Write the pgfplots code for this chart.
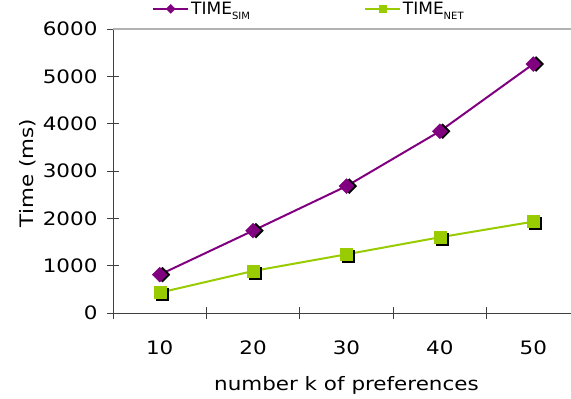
\documentclass[border=0pt]{standalone}
\usepackage{pgfplots}
\pgfplotsset{compat=1.18}
\usepackage{fontspec}
\setmainfont[FakeStretch=1.16]{DejaVu Sans}
\newfontfamily\legfont{DejaVu Sans}
\definecolor{simc}{HTML}{800080}
\definecolor{netc}{HTML}{99CC00}
\newcommand{\bigfnt}{\fontsize{18.5}{20}\selectfont}
\begin{document}
\begin{tikzpicture}
\begin{axis}[
  at={(0,0)}, anchor=south west,
  scale only axis, width=458pt, height=284pt,
  xmin=0.5, xmax=5.404, ymin=0, ymax=6000,
  axis x line*=bottom, axis y line*=left,
  axis line style={black!75, line width=0.8pt},
  /pgf/number format/assume math mode=true,
  /pgf/number format/1000 sep={},
  scaled y ticks=false,
  xtick={0.5,1.5,2.5,3.5,4.5}, xticklabels={},
  extra x ticks={1,2,3,4,5},
  extra x tick labels={10,20,30,40,50},
  extra x tick style={major tick length=0pt, tick style={draw=none}},
  ytick={0,1000,...,6000},
  tick align=center, major tick length=12pt,
  tick style={black!75, line width=0.8pt},
  ticklabel style={font=\bigfnt},
  xticklabel style={anchor=base, yshift=-41pt},
  yticklabel style={anchor=east, xshift=-6pt},
  xlabel={number k of preferences},
  xlabel style={font=\bigfnt, at={(axis cs:3,0)}, anchor=base, yshift=-77pt},
  ylabel={Time (ms)},
  ylabel style={font=\bigfnt, xshift=-2pt},
  clip=false,
  legend columns=2,
  legend style={draw=none, fill=none, font=\legfont\fontsize{17}{18}\selectfont,
    at={(rel axis cs:0,1)}, anchor=south west, xshift=36pt, yshift=9pt,
    /tikz/every even column/.append style={column sep=112pt}},
  legend image code/.code={\draw[mark repeat=2,mark phase=2,#1, every mark/.append style={scale=0.6}] plot coordinates {(0pt,0pt) (17.5pt,0pt) (35pt,0pt)};},
]
\draw[gray!60, line width=1.2pt] (rel axis cs:0,1) -- (rel axis cs:1,1);
% shadows
\addplot[forget plot, only marks, mark=square*, mark size=5.3pt,
  mark options={fill=black, draw=black, line width=0.3pt, rotate=45, xshift=2pt, yshift=-2pt}]
  coordinates {(1,810) (2,1740) (3,2680) (4,3840) (5,5260)};
\addplot[forget plot, only marks, mark=square*, mark size=6pt,
  mark options={fill=black, draw=black, line width=0.3pt, xshift=2pt, yshift=-2pt}]
  coordinates {(1,430) (2,887) (3,1240) (4,1600) (5,1930)};
% series
\addplot[simc, line width=2pt, mark=square*, mark size=5.3pt,
  mark options={fill=simc, draw=simc, line width=0.3pt, rotate=45}]
  coordinates {(1,810) (2,1740) (3,2680) (4,3840) (5,5260)};
\addlegendentry{TIME\raisebox{-5pt}{\fontsize{10}{10}\selectfont SIM}}
\addplot[netc, line width=2pt, mark=square*, mark size=6pt,
  mark options={fill=netc, draw=netc, line width=0.3pt}]
  coordinates {(1,430) (2,887) (3,1240) (4,1600) (5,1930)};
\addlegendentry{TIME\raisebox{-5pt}{\fontsize{10}{10}\selectfont NET}}
\end{axis}
\pgfresetboundingbox
\path[use as bounding box] (-113pt,-86pt) rectangle (458pt,313pt);
\end{tikzpicture}
\end{document}
